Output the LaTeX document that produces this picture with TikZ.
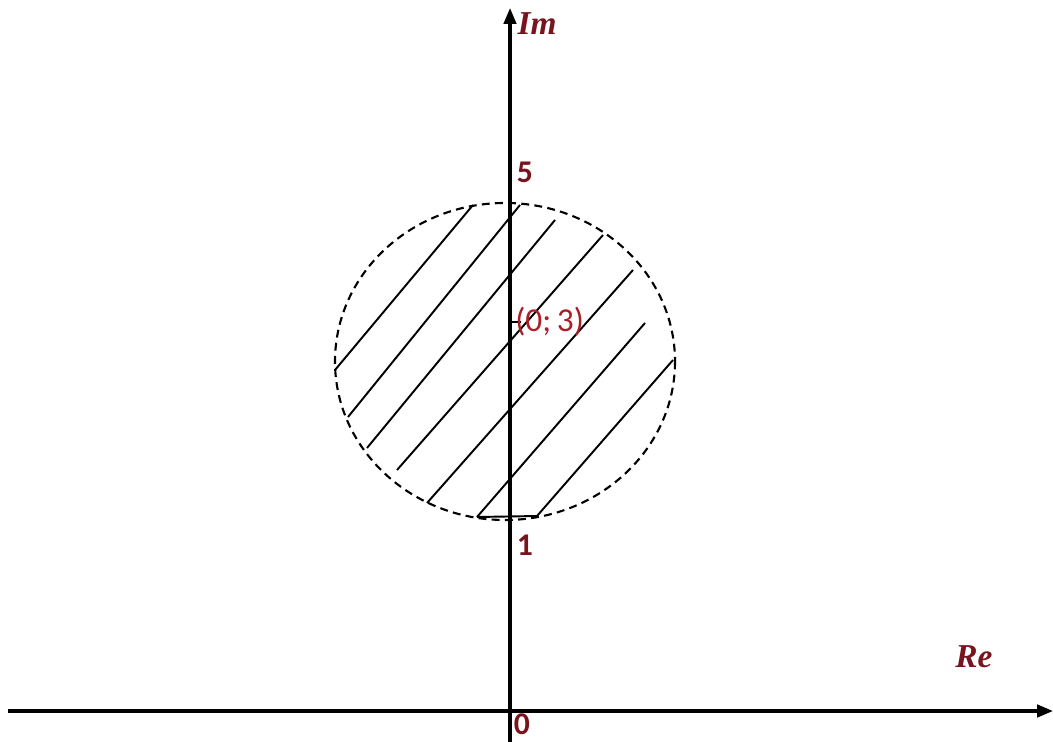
\documentclass[tikz,border=0pt]{standalone}
\usepackage{fontspec}
\setmainfont{Carlito}
\newfontfamily\axisfont{Liberation Serif}
\usepackage{xcolor}
\usetikzlibrary{arrows.meta, positioning}
\definecolor{darkred}{RGB}{120,20,30}
\definecolor{midred}{RGB}{170,30,40}
\tikzstyle{axis} = [line width=1.8pt, -{Triangle[length=9pt, width=7pt]}]
\tikzstyle{hatch} = [line width=1.1pt, black]

\begin{document}
\begin{tikzpicture}[
        x=0.02cm, y=-0.02cm,
        lbl/.style={text=darkred, font=\fontsize{18}{20}\selectfont\bfseries, inner sep=0pt},
        axlbl/.style={text=darkred, font=\axisfont\fontsize{19}{21}\selectfont\bfseries\itshape, inner sep=0pt},
        border/.style={dash pattern=on 4.5pt off 3pt, line width=1.2pt},
    ]
        \useasboundingbox (0,0) rectangle (1053,742);

        % axes
        \coordinate (xstart) at (8,711);
        \coordinate (xend) at (1053,711);
        \coordinate (ystart) at (510,742);
        \coordinate (yend) at (510,8);
        \draw[axis] (xstart) -- (xend);
        \draw[axis] (ystart) -- (yend);

        % disc |z-3i| <= 2
        \coordinate (centre) at (505,361.5);
        \draw[border] (centre) ellipse [x radius=170, y radius=158.5];

        \draw[hatch] (335,370) -- (473,205);
        \draw[hatch] (348,417) -- (520,205);
        \draw[hatch] (367,448) -- (555,220);
        \draw[hatch] (397,470) -- (603,235);
        \draw[hatch] (427,503) -- (633,270);
        \draw[hatch] (477,517) -- (645,323);
        \draw[hatch] (537,516) -- (673,360);
        \draw[hatch] (477,517) -- (537,516);
        \draw[hatch] (510,322) -- (521,322);

        \node[axlbl] (im) at (537,24) {Im};
        \node[axlbl] (re) at (974,657) {Re};
        \node[lbl] (five) at (525,172) {5};
        \node[lbl] (one) at (525,545) {1};
        \node[lbl] (zero) at (522,724) {0};
        \node[text=midred, font=\fontsize{19}{21}\selectfont, inner sep=0pt, anchor=west] (c) at (515,322) {(0;\,3)};
    \end{tikzpicture}
\end{document}
